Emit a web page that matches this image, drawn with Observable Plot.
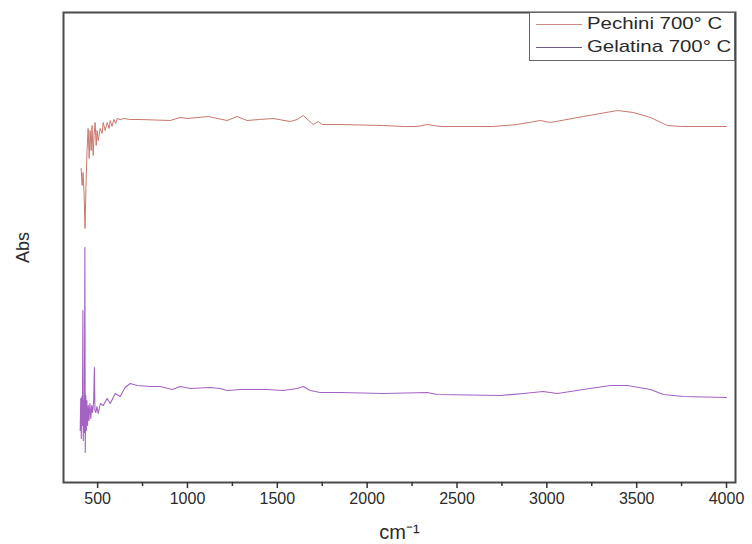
<!DOCTYPE html>
<html>
<head>
<meta charset="utf-8">
<script src="https://cdn.jsdelivr.net/npm/d3@7"></script>
<script src="https://cdn.jsdelivr.net/npm/@observablehq/plot@0.6"></script>
<style>
  html, body { margin: 0; padding: 0; background: #fff; }
  #wrap { position: relative; width: 752px; height: 544px; font-family: "Liberation Sans", Arial, sans-serif; }
  #legend { position: absolute; left: 529px; top: 12px; width: 206px; height: 49px; border: 1px solid #666; background: #fff; box-sizing: border-box; }
  .item { position: absolute; left: 0; height: 20px; display: flex; align-items: center; }
  .swatch { width: 46px; height: 0; border-top: 1px solid; margin-left: 6px; margin-right: 5px; }
  .lbl { font-size: 17px; color: #2a2a2a; white-space: nowrap; transform: scaleX(1.2); transform-origin: left center; }
</style>
</head>
<body>
<div id="wrap">
  <div id="chart"></div>
  <div id="legend"></div>
</div>
<script>
// Wavenumber (cm^-1) and absorbance (arbitrary units)
const pechiniWn = [408,414,419,425,430,436,441,447,453,458,464,469,475,480,486,492,497,503,514,525,531,542,553,564,570,580,590,600,609,625,648,681,737,904,959,998,1115,1221,1276,1332,1400,1477,1572,1611,1644,1700,1728,1750,1850,2090,2201,2279,2335,2407,2702,2836,2964,3020,3203,3393,3482,3577,3671,3750,4000];
const pechiniAbs = [3.16,2.99,3.12,2.89,2.56,3.04,3.34,3.56,3.26,3.54,3.34,3.59,3.29,3.49,3.62,3.39,3.54,3.44,3.56,3.51,3.62,3.54,3.62,3.56,3.64,3.58,3.65,3.61,3.66,3.65,3.66,3.65,3.65,3.64,3.67,3.66,3.68,3.64,3.68,3.64,3.65,3.66,3.63,3.65,3.69,3.60,3.63,3.60,3.60,3.59,3.58,3.58,3.60,3.58,3.58,3.60,3.64,3.62,3.68,3.74,3.72,3.67,3.59,3.58,3.58];

const gelatinaWn = [403,406,409,412,415,418,420,423,426,429,431,434,437,440,444,448,452,457,462,467,472,478,482,485,490,496,503,515,531,553,570,598,625,653,681,720,792,848,915,959,1015,1126,1182,1221,1293,1443,1532,1611,1644,1683,1739,1850,2090,2335,2390,2741,2869,2980,3058,3203,3353,3448,3577,3649,3760,4000];
const gelatinaAbs = [0.54,0.86,0.46,0.88,0.59,1.74,0.44,0.84,0.52,2.37,0.32,0.89,0.54,0.84,0.59,0.79,0.64,0.81,0.66,0.79,0.72,0.84,1.17,0.74,0.72,0.78,0.71,0.81,0.79,0.86,0.81,0.91,0.88,0.97,1.01,0.99,0.98,0.98,0.95,0.98,0.96,0.97,0.96,0.94,0.95,0.95,0.94,0.96,0.98,0.94,0.92,0.92,0.91,0.92,0.90,0.89,0.91,0.93,0.91,0.95,0.99,0.99,0.95,0.90,0.88,0.87];

const seriesNames = ["Pechini 700° C", "Gelatina 700° C"];
const seriesColors = ["#c8786e", "#a463c2"];
const legendSwatchColors = ["#c98a86", "#6e5a7e"];
const majorTicks = [500,1000,1500,2000,2500,3000,3500,4000];
const minorTicks = [750,1250,1750,2250,2750,3250,3750];

const pechini = pechiniWn.map((x, i) => ({x, y: pechiniAbs[i]}));
const gelatina = gelatinaWn.map((x, i) => ({x, y: gelatinaAbs[i]}));

const chart = Plot.plot({
  width: 752,
  height: 544,
  marginLeft: 63,
  marginRight: 17,
  marginTop: 12,
  marginBottom: 62,
  style: {fontFamily: "Liberation Sans, Arial, sans-serif", background: "#fff", color: "#2a2a2a"},
  x: {domain: [310, 4050]},
  y: {domain: [0.02, 4.72]},
  marks: [
    Plot.line(pechini, {x: "x", y: "y", stroke: seriesColors[0], strokeWidth: 1}),
    Plot.line(gelatina, {x: "x", y: "y", stroke: seriesColors[1], strokeWidth: 1.1}),
    Plot.frame({stroke: "#4a4a4a", strokeWidth: 2}),
    Plot.axisX({ticks: majorTicks, tickSize: 6, tickPadding: 4, tickFormat: d => String(d), stroke: "#333", strokeWidth: 1.5,
      label: "cm⁻¹", labelAnchor: "center", labelArrow: "none", labelOffset: 56}),
    Plot.axisX({ticks: minorTicks, tickSize: 4, text: null, label: null, stroke: "#333", strokeWidth: 1.5}),
    Plot.axisY({ticks: [], label: "Abs", labelAnchor: "center", labelArrow: "none", labelOffset: 47})
  ]
});
document.getElementById("chart").appendChild(chart);

// font sizes for axis texts
d3.select(chart).selectAll("[aria-label='x-axis tick label']").style("font-size", "16px").attr("font-size", 16);
d3.select(chart).selectAll("[aria-label='x-axis tick label'] text").style("font-size", "16px");
d3.select(chart).selectAll("[aria-label='x-axis label']").style("font-size", "20px");
d3.select(chart).selectAll("[aria-label='x-axis label'] text").style("font-size", "20px");
d3.select(chart).selectAll("[aria-label='y-axis label']").style("font-size", "18px");
d3.select(chart).selectAll("[aria-label='y-axis label'] text").style("font-size", "18px");

const legend = document.getElementById("legend");
seriesNames.forEach((name, i) => {
  const item = document.createElement("div");
  item.className = "item";
  item.style.top = (i === 0 ? 1 : 24) + "px";
  const sw = document.createElement("div");
  sw.className = "swatch";
  sw.style.borderTopColor = legendSwatchColors[i];
  const t = document.createElement("span");
  t.className = "lbl";
  t.textContent = name;
  item.appendChild(sw);
  item.appendChild(t);
  legend.appendChild(item);
});
</script>
</body>
</html>
